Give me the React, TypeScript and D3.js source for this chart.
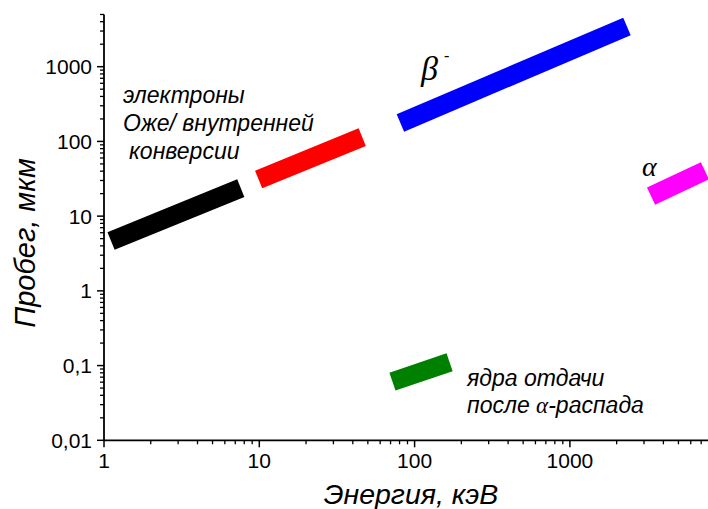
import React from "react";
import * as d3 from "d3";

// ranges of particles: [E start, R start, E end, R end] (keV, µm)
const bandNames = ["auger", "conv", "beta", "alpha", "recoil"];
const bandColors = ["#000000", "#ff0000", "#0000ff", "#ff00ff", "#008000"];
const bandStartE = [1.11, 9.9, 81, 3330, 72];
const bandStartR = [4.65, 31, 177, 18.5, 0.061];
const bandEndE = [7.6, 46, 2330, 7400, 168];
const bandEndR = [23.7, 114, 3450, 40.5, 0.111];

const xTickValues = [1, 10, 100, 1000];
const xTickLabels = ["1", "10", "100", "1000"];
const yTickValues = [0.01, 0.1, 1, 10, 100, 1000];
const yTickLabels = ["0,01", "0,1", "1", "10", "100", "1000"];

const W = 708;
const H = 509;
const sans = "'Liberation Sans', Arial, sans-serif";
const serif = "'Liberation Serif', 'Times New Roman', serif";

export default function App() {
  const left = 104;
  const bottom = 440.3;
  const x = d3.scaleLog().domain([1, 10000]).range([left, left + 4 * 155.3]);
  const y = d3.scaleLog().domain([0.01, 5000]).range([bottom, bottom - 74.72 * Math.log10(500000)]);

  const minorX: number[] = [];
  for (let p = 0; p < 4; p++) for (let m = 2; m <= 9; m++) minorX.push(m * Math.pow(10, p));
  const minorY: number[] = [];
  for (let p = -2; p < 4; p++)
    for (let m = 2; m <= 9; m++) {
      const v = m * Math.pow(10, p);
      if (v <= 5000) minorY.push(v);
    }

  const line = d3.line<[number, number]>().x((d) => x(d[0])).y((d) => y(d[1]));

  return (
    <svg width={W} height={H} style={{ position: "absolute", left: 0, top: 0, background: "#fff" }}>
      {/* bands */}
      {bandNames.map((n, i) => (
        <path
          key={n}
          d={line([[bandStartE[i], bandStartR[i]], [bandEndE[i], bandEndR[i]]]) || ""}
          stroke={bandColors[i]}
          strokeWidth={19}
          strokeLinecap="butt"
          fill="none"
        />
      ))}

      {/* axes */}
      <line x1={left} x2={x(10000)} y1={bottom} y2={bottom} stroke="#000" strokeWidth={1.8} />
      <line x1={left} x2={left} y1={bottom} y2={y(5000)} stroke="#000" strokeWidth={1.8} />
      {minorX.map((v) => (
        <line key={"mx" + v} x1={x(v)} x2={x(v)} y1={bottom} y2={bottom + 4} stroke="#000" strokeWidth={1.3} />
      ))}
      {xTickValues.map((v, i) => (
        <g key={"x" + v}>
          <line x1={x(v)} x2={x(v)} y1={bottom} y2={bottom + 7} stroke="#000" strokeWidth={1.5} />
          <text x={x(v)} y={468} textAnchor="middle" fontFamily={sans} fontSize={21}>
            {xTickLabels[i]}
          </text>
        </g>
      ))}
      {minorY.map((v) => (
        <line key={"my" + v} x1={left - 4} x2={left} y1={y(v)} y2={y(v)} stroke="#000" strokeWidth={1.3} />
      ))}
      {yTickValues.map((v, i) => (
        <g key={"y" + v}>
          <line x1={left - 7} x2={left} y1={y(v)} y2={y(v)} stroke="#000" strokeWidth={1.5} />
          <text x={92} y={y(v) + 7.5} textAnchor="end" fontFamily={sans} fontSize={21}>
            {yTickLabels[i]}
          </text>
        </g>
      ))}

      {/* axis titles */}
      <text x={411} y={504} textAnchor="middle" fontFamily={sans} fontStyle="italic" fontSize={28.5}>
        Энергия, кэВ
      </text>
      <text
        transform="translate(35,243) rotate(-90)"
        textAnchor="middle"
        fontFamily={sans}
        fontStyle="italic"
        fontSize={29}
      >
        Пробег, мкм
      </text>

      {/* annotations */}
      <g fontFamily={sans} fontStyle="italic" fontSize={23}>
        <text x={123} y={103}>электроны</text>
        <text x={123} y={131}>Оже/ внутренней</text>
        <text x={129} y={159}>конверсии</text>
        <text x={467} y={386}>ядра отдачи</text>
        <text x={467} y={413}>
          после <tspan fontFamily={serif}>α</tspan>-распада
        </text>
      </g>
      <text x={421} y={80} fontFamily={serif} fontStyle="italic" fontSize={34}>
        β
      </text>
      <text x={444} y={61} fontFamily={serif} fontSize={16}>
        -
      </text>
      <text x={642} y={176} fontFamily={serif} fontStyle="italic" fontSize={28}>
        α
      </text>
    </svg>
  );
}
